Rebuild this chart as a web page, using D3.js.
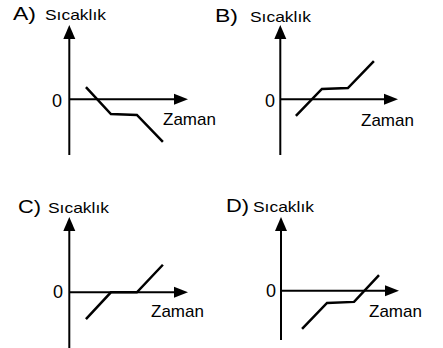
<!DOCTYPE html>
<html>
<head>
<meta charset="utf-8">
<script src="https://cdn.jsdelivr.net/npm/d3@7"></script>
<style>
  body { margin: 0; background: #fff; }
  text { font-family: "Liberation Sans", Arial, sans-serif; fill: #000; }
</style>
</head>
<body>
<svg width="443" height="348"></svg>
<script>
let svg = d3.select("svg");

// option letters
let secenekler = ["A)", "B)", "C)", "D)"];

// zaman (x) and sicaklik (y) of each broken line, 1 unit = one segment step
let zamanA = [0.64, 1.6, 2.6, 3.6];
let sicaklikA = [0.47, -0.57, -0.6, -1.64];

let zamanB = [0.6, 1.6, 2.6, 3.6];
let sicaklikB = [-0.64, 0.4, 0.43, 1.47];

let zamanC = [0.64, 1.6, 2.6, 3.6];
let sicaklikC = [-1.03, 0, 0, 1.06];

let zamanD = [0.81, 1.77, 2.81, 3.77];
let sicaklikD = [-1.47, -0.47, -0.43, 0.6];

let zamanlar = [zamanA, zamanB, zamanC, zamanD];
let sicakliklar = [sicaklikA, sicaklikB, sicaklikC, sicaklikD];

// where each small graph sits on the page
let panels = [
    {ox: 69.3, oy: 99.3, top: 25, bottom: 155, right: 188, letterX: 13, titleX: 45, titleY: 20, zeroX: 52, zeroY: 107, zamanX: 163, zamanY: 125},
    {ox: 280.3, oy: 99.3, top: 25, bottom: 155, right: 398, letterX: 215, titleX: 250, titleY: 21.5, zeroX: 265, zeroY: 107, zamanX: 361, zamanY: 126},
    {ox: 69.3, oy: 292.3, top: 217, bottom: 348, right: 188, letterX: 18, titleX: 48, titleY: 212.5, zeroX: 53, zeroY: 298, zamanX: 151, zamanY: 316.5},
    {ox: 281, oy: 290.7, top: 217, bottom: 340, right: 399, letterX: 226, titleX: 253, titleY: 212, zeroX: 266, zeroY: 297, zamanX: 369, zamanY: 316.5}
];

let step = 26;

panels.forEach(function(p, i) {
    let x = d3.scaleLinear().domain([0, 1]).range([p.ox, p.ox + step]);
    let y = d3.scaleLinear().domain([0, 1]).range([p.oy, p.oy - step]);
    let g = svg.append("g").attr("class", "panel");

    // axes
    g.append("line")
        .attr("x1", x(0)).attr("y1", p.bottom)
        .attr("x2", x(0)).attr("y2", p.top + 8)
        .attr("stroke", "#000").attr("stroke-width", 2);
    g.append("line")
        .attr("x1", x(0)).attr("y1", y(0))
        .attr("x2", p.right - 8).attr("y2", y(0))
        .attr("stroke", "#000").attr("stroke-width", 2);

    // arrow heads
    g.append("path")
        .attr("d", "M" + x(0) + "," + p.top + "L" + (x(0) - 6) + "," + (p.top + 14) +
                   "L" + (x(0) + 6) + "," + (p.top + 14) + "Z")
        .attr("fill", "#000");
    g.append("path")
        .attr("d", "M" + p.right + "," + y(0) + "L" + (p.right - 14) + "," + (y(0) - 5.5) +
                   "L" + (p.right - 14) + "," + (y(0) + 5.5) + "Z")
        .attr("fill", "#000");

    // data line
    let pts = zamanlar[i].map(function(t, k) { return [t, sicakliklar[i][k]]; });
    let line = d3.line()
        .x(function(d) { return x(d[0]); })
        .y(function(d) { return y(d[1]); });
    g.append("path")
        .datum(pts)
        .attr("d", line)
        .attr("fill", "none")
        .attr("stroke", "#000")
        .attr("stroke-width", 2.5)
        .attr("stroke-linejoin", "miter");

    // texts
    g.append("text")
        .attr("x", p.letterX).attr("y", p.titleY)
        .attr("font-size", 18)
        .attr("textLength", 23).attr("lengthAdjust", "spacingAndGlyphs")
        .text(secenekler[i]);
    g.append("text")
        .attr("x", p.titleX).attr("y", p.titleY)
        .attr("font-size", 15)
        .attr("textLength", 61).attr("lengthAdjust", "spacingAndGlyphs")
        .text("Sıcaklık");
    g.append("text")
        .attr("x", p.zeroX).attr("y", p.zeroY)
        .attr("font-size", 18)
        .text("0");
    g.append("text")
        .attr("x", p.zamanX).attr("y", p.zamanY)
        .attr("font-size", 17)
        .text("Zaman");
});
</script>
</body>
</html>
